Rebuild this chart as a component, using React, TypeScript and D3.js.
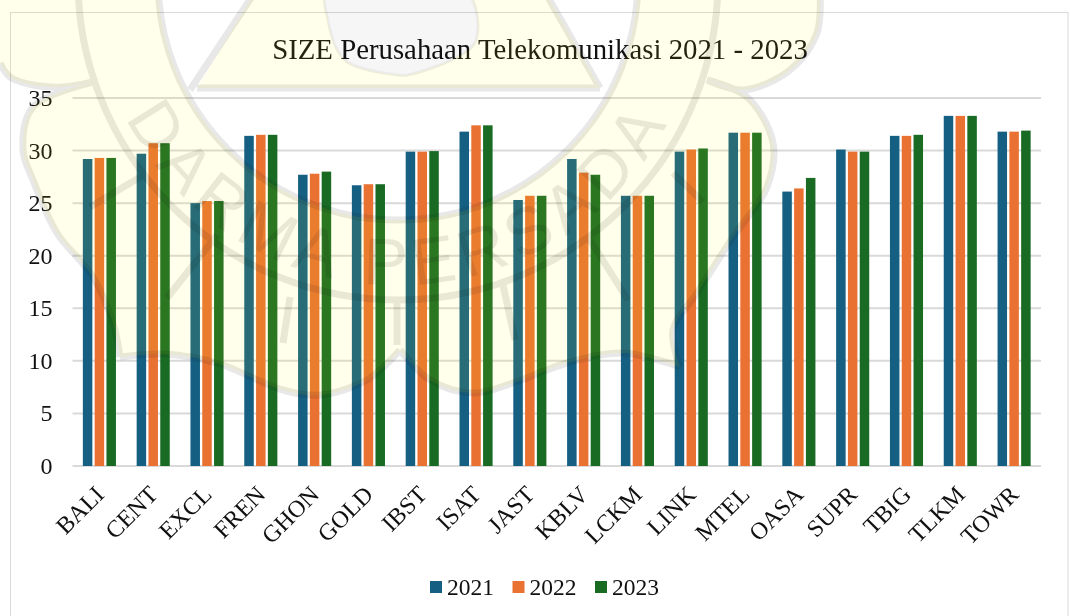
import React from "react";
import * as d3 from "d3";

const title = "SIZE Perusahaan Telekomunikasi 2021 - 2023";
const categories = ["BALI","CENT","EXCL","FREN","GHON","GOLD","IBST","ISAT","JAST","KBLV","LCKM","LINK","MTEL","OASA","SUPR","TBIG","TLKM","TOWR"];
const seriesNames = ["2021","2022","2023"];
const v2021 = [29.2,29.7,25.0,31.4,27.7,26.7,29.9,31.8,25.3,29.2,25.7,29.9,31.7,26.1,30.1,31.4,33.3,31.8];
const v2022 = [29.3,30.7,25.2,31.5,27.8,26.8,29.9,32.4,25.7,27.9,25.7,30.1,31.7,26.4,29.9,31.4,33.3,31.8];
const v2023 = [29.3,30.7,25.2,31.5,28.0,26.8,29.95,32.4,25.7,27.7,25.7,30.2,31.7,27.4,29.9,31.5,33.3,31.9];
const yTicks = [0,5,10,15,20,25,30,35];
const colors = ["#156082","#e97132","#196b24"];
const FONT = "'Liberation Serif', serif";

type P = [number, number];
const waveTopLeft: P[] = [[0,63],[10,77],[33,85],[63,87],[93,82]];
const lobeLeft: P[] = [[93,82],[33,107],[23,150],[33,180],[57,233],[93,277],[113,323],[120,357]];
const waveBottomLeft: P[] = [[120,357],[163,354],[217,363],[283,390],[320,395],[367,380],[400,350]];
const waveBottomRight: P[] = [[400,350],[430,380],[473,393],[513,383],[567,363],[623,353],[680,367]];
const lobeRight: P[] = [[680,367],[673,330],[697,293],[733,237],[767,187],[773,143],[747,97],[707,80]];
const waveTopRight: P[] = [[707,80],[743,90],[790,70],[817,33],[820,-10]];
const logoBlob: P[] = [[328,-10],[328,20],[345,60],[398,75],[407,75],[455,58],[476,40],[465,-10]];
const straightStrokes: P[][] = [
  [[197,88],[600,88]],[[255,-8],[190,90]],[[545,-8],[600,88]],
  [[167,298],[217,235]],[[628,300],[590,240]],
  [[90,207],[147,173]],[[703,202],[673,173]],
  [[290,297],[283,343]],[[503,285],[515,340]],
  [[397,300],[397,345]],
];
const ringCenter: P = [398,-20];
const ringRadii = [240,320];
const watermarkText = "DARMA PERSADA";

export default function App() {
  const x = d3.scaleBand().domain(categories).range([72.5, 1041]);
  const y = d3.scaleLinear().domain([0, 35]).range([466, 98]);
  const inner = d3.scaleBand().domain(seriesNames).range([-16.55, 16.55]).paddingInner(0.195);
  const all = [v2021, v2022, v2023];

  const curve = d3.line().curve(d3.curveCatmullRom);
  const curves = [waveTopLeft, lobeLeft, waveBottomLeft, waveBottomRight, lobeRight, waveTopRight];
  const strokeD = curves.map((c) => curve(c)!).join(" ");
  const joined = curves.map((c, i) => (i === 0 ? curve(c)! : curve(c)!.replace(/^M/, "L"))).join(" ");
  const [cx, cy] = ringCenter;
  const circleD = (r: number) => `M${cx - r},${cy}a${r},${r} 0 1,0 ${2 * r},0a${r},${r} 0 1,0 ${-2 * r},0Z`;
  const trapezoid = "M197,88L600,88L550,0L550,-30L250,-30L250,0Z";
  const blobD = d3.line().curve(d3.curveCatmullRomClosed)(logoBlob)!;
  const yellowD = `M0,-300 ${joined.replace(/^M/, "L")} L820,-300Z ${circleD(240)} ${trapezoid} ${blobD}`;
  const tR = 305;
  const textArc = `M${cx - tR},${cy}A${tR},${tR} 0 0,0 ${cx + tR},${cy}`;

  return (
    <svg width={1070} height={616} style={{ position: "absolute", left: 0, top: 0, background: "#fff" }} fontFamily={FONT}>
      <defs><path id="wm-arc" d={textArc} /></defs>
      <rect x={10.5} y={12.5} width={1057.5} height={620} fill="none" stroke="#d9d9d9" />
      <text x={540} y={59} textAnchor="middle" fontSize={28.8} fill="#111">{title}</text>
      {yTicks.map((t) => (
        <g key={t}>
          <line x1={72.5} x2={1041} y1={y(t)} y2={y(t)} stroke="#d9d9d9" strokeWidth={2} />
          <text x={52.5} y={y(t) + 8} textAnchor="end" fontSize={24} fill="#111">{t}</text>
        </g>
      ))}
      {categories.map((c, i) => (
        <g key={c} transform={`translate(${x(c)! + x.bandwidth() / 2},0)`}>
          {seriesNames.map((s, k) => (
            <rect key={s} x={inner(s)} width={inner.bandwidth()} y={y(all[k][i])} height={466 - y(all[k][i])} fill={colors[k]} />
          ))}
        </g>
      ))}
      {categories.map((c) => (
        <text key={c} transform={`translate(${x(c)! + x.bandwidth() / 2 + 6},496) rotate(-45)`} textAnchor="end" fontSize={24} fill="#111">{c}</text>
      ))}
      {seriesNames.map((s, k) => (
        <g key={s} transform={`translate(${430 + k * 82.5},0)`}>
          <rect x={0} y={581} width={12} height={12} fill={colors[k]} />
          <text x={17} y={595} fontSize={23.5} fill="#111">{s}</text>
        </g>
      ))}
      {/* scanned watermark laid over the chart */}
      <g pointerEvents="none">
        <path d={yellowD} fill="rgb(255,255,0)" fillOpacity={0.08} fillRule="evenodd" />
        <g style={{ mixBlendMode: "multiply" }}>
          <path d={blobD} fill="#f6f6f6" stroke="#ececec" strokeWidth={3} />
          <g fill="none" stroke="#e8e8e8" strokeWidth={7}>
            <path d={strokeD} />
            {ringRadii.map((r) => <circle key={r} cx={cx} cy={cy} r={r} />)}
            {straightStrokes.map((s, i) => <path key={i} d={d3.line()(s)!} />)}
          </g>
          <text fontFamily="'Liberation Sans', sans-serif" fontSize={66} fill="#e8e8e8" letterSpacing={8} textAnchor="middle">
            <textPath href="#wm-arc" startOffset="50%">{watermarkText}</textPath>
          </text>
        </g>
      </g>
    </svg>
  );
}
